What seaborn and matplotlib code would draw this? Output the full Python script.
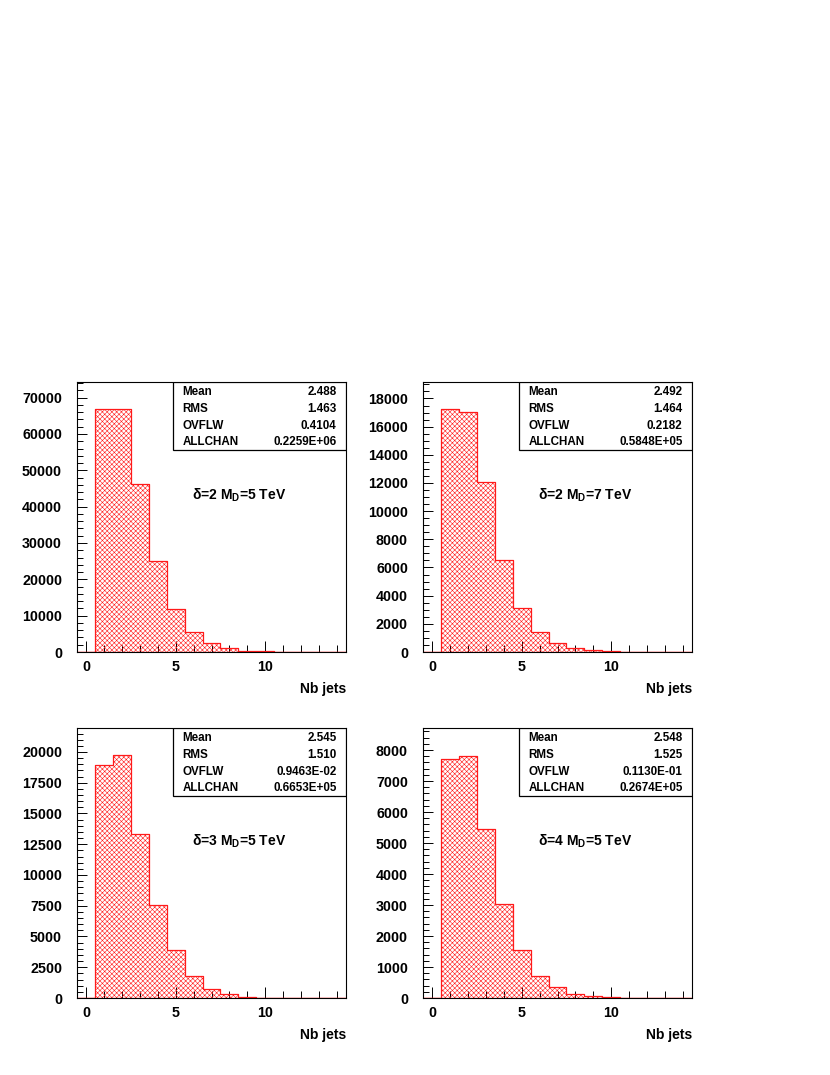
import numpy as np
import pandas as pd
import matplotlib
matplotlib.use('Agg')
import matplotlib.pyplot as plt
from matplotlib.ticker import MultipleLocator, AutoMinorLocator
from matplotlib.patches import Rectangle
import seaborn as sns

# bin centres (number of jets)
nb_jets = list(range(15))

# counts
counts_d2_md5 = [0, 66800, 67000, 46200, 25000, 11960, 5500, 2600, 1100, 400, 150, 60, 20, 8, 3]
counts_d2_md7 = [0, 17240, 17060, 12080, 6560, 3150, 1420, 640, 250, 120, 40, 15, 6, 2, 1]
counts_d3_md5 = [0, 18920, 19730, 13370, 7540, 3880, 1760, 760, 300, 100, 40, 15, 6, 2, 1]
counts_d4_md5 = [0, 7710, 7815, 5440, 3020, 1560, 700, 355, 140, 60, 20, 8, 3, 1, 0]

labels = ['δ=2 M$_{\\mathregular{D}}$=5 TeV', 'δ=2 M$_{\\mathregular{D}}$=7 TeV',
          'δ=3 M$_{\\mathregular{D}}$=5 TeV', 'δ=4 M$_{\\mathregular{D}}$=5 TeV']

stat_names = ['Mean', 'RMS', 'OVFLW', 'ALLCHAN']
stat_d2_md5 = ['2.488', '1.463', '0.4104', '0.2259E+06']
stat_d2_md7 = ['2.492', '1.464', '0.2182', '0.5848E+05']
stat_d3_md5 = ['2.545', '1.510', '0.9463E-02', '0.6653E+05']
stat_d4_md5 = ['2.548', '1.525', '0.1130E-01', '0.2674E+05']

y_max = [74300, 19170, 21950, 8710]
y_major = [10000, 2000, 2500, 1000]
y_minor = [5, 4, 5, 5]

sns.set_style('white')
plt.rcParams['font.family'] = ['Liberation Sans', 'DejaVu Sans']
plt.rcParams['font.weight'] = 'bold'
plt.rcParams['text.color'] = 'black'
plt.rcParams['hatch.linewidth'] = 0.4
plt.rcParams['mathtext.default'] = 'regular'

fig = plt.figure(figsize=(8.3, 10.75), dpi=100)
W, H = 830, 1075
boxes = [(77, 382, 346, 652), (423, 382, 692, 652),
         (77, 728, 346, 998), (423, 728, 692, 998)]
axes = [fig.add_axes([l / W, 1 - b / H, (r - l) / W, (b - t) / H]) for l, t, r, b in boxes]

all_counts = [counts_d2_md5, counts_d2_md7, counts_d3_md5, counts_d4_md5]
all_stats = [stat_d2_md5, stat_d2_md7, stat_d3_md5, stat_d4_md5]

for i, ax in enumerate(axes):
    df = pd.DataFrame({'nb': nb_jets, 'n': all_counts[i]})
    sns.histplot(data=df, x='nb', weights='n', discrete=True, ax=ax,
                 element='step', fill=True, color='#ff1a1a', facecolor='none',
                 edgecolor='#ff1a1a', hatch='xxxxxxx', linewidth=0.9, alpha=1)
    ax.set_xlim(-0.5, 14.5)
    ax.set_ylim(0, y_max[i])
    ax.xaxis.set_major_locator(MultipleLocator(5))
    ax.xaxis.set_minor_locator(MultipleLocator(1))
    ax.yaxis.set_major_locator(MultipleLocator(y_major[i]))
    ax.yaxis.set_minor_locator(AutoMinorLocator(y_minor[i]))
    ax.tick_params(which='both', direction='in', colors='black', width=0.7,
                   labelsize=10.3, bottom=True, left=True, top=False, right=False)
    ax.tick_params(axis='x', which='major', length=8, pad=5.8)
    ax.tick_params(axis='x', which='minor', length=5)
    ax.tick_params(axis='y', which='major', length=7.2, pad=10.8)
    ax.tick_params(axis='y', which='minor', length=4)
    for lab in ax.get_xticklabels() + ax.get_yticklabels():
        lab.set_fontweight('bold')
    for sp in ax.spines.values():
        sp.set_color('black')
        sp.set_linewidth(0.8)
    ax.set_xlabel('')
    ax.set_ylabel('')
    ax.text(1.0, -0.136, 'Nb jets', transform=ax.transAxes, ha='right', va='center',
            fontsize=10, fontweight='bold')
    ax.text(0.426, 0.58, labels[i], transform=ax.transAxes, ha='left', va='center',
            fontsize=10, fontweight='bold')

    # statistics box
    x0 = 0.356
    ax.add_patch(Rectangle((x0, 0.747), 1 - x0, 0.253, transform=ax.transAxes,
                           facecolor='white', edgecolor='black', linewidth=0.9,
                           zorder=5))
    for j, name in enumerate(stat_names):
        yy = 0.962 - j * 0.062
        ax.text(0.393, yy, name, transform=ax.transAxes, ha='left',
                va='center', fontsize=8.4, fontweight='bold', zorder=6)
        ax.text(0.965, yy, all_stats[i][j], transform=ax.transAxes, ha='right',
                va='center', fontsize=8.4, fontweight='bold', zorder=6)

fig.savefig('out.png', dpi=100)
